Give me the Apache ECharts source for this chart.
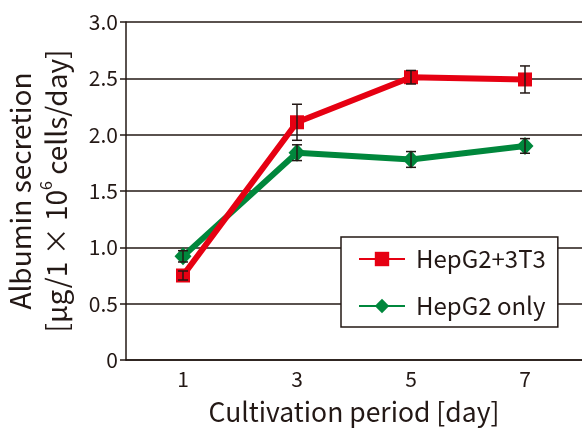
<!DOCTYPE html>
<html>
<head>
<meta charset="utf-8">
<script src="https://cdn.jsdelivr.net/npm/echarts@6/dist/echarts.min.js"></script>
<style>
  html, body { margin: 0; padding: 0; background: #fff; }
  #chart { width: 582px; height: 430px; }
</style>
</head>
<body>
<div id="chart"></div>
<script>
var days = ['1', '3', '5', '7'];
var coMean = [0.75, 2.11, 2.51, 2.49];
var coErr = [0.04, 0.16, 0.06, 0.12];
var onlyMean = [0.92, 1.84, 1.78, 1.90];
var onlyErr = [0.05, 0.07, 0.07, 0.065];
var yTicks = [0, 0.5, 1.0, 1.5, 2.0, 2.5, 3.0];

var ink = '#231815';
var red = '#e60012';
var green = '#00873c';
var font = '"Noto Sans CJK JP", "Noto Sans", sans-serif';

var myChart = echarts.init(document.getElementById('chart'));

function errData(mean, err) {
  let d = [];
  mean.forEach((m, i) => {
    d.push([i, m - err[i], m + err[i]]);
  });
  return d;
}

function errBar(params, api) {
  let lo = api.coord([api.value(0), api.value(1)]);
  let hi = api.coord([api.value(0), api.value(2)]);
  let w = 5;
  let st = { stroke: ink, lineWidth: 1.5 };
  return {
    type: 'group',
    children: [
      { type: 'line', shape: { x1: lo[0], y1: lo[1], x2: hi[0], y2: hi[1] }, style: st },
      { type: 'line', shape: { x1: lo[0] - w, y1: lo[1], x2: lo[0] + w, y2: lo[1] }, style: st },
      { type: 'line', shape: { x1: hi[0] - w, y1: hi[1], x2: hi[0] + w, y2: hi[1] }, style: st }
    ]
  };
}

var option = {
  animation: false,
  textStyle: { fontFamily: font, color: ink },
  grid: { left: 126, right: 0, top: 22, bottom: 70, outerBoundsMode: 'none', containLabel: false },
  legend: {
    orient: 'vertical',
    left: 341,
    top: 237,
    padding: [9, 12, 8, 17],
    itemGap: 21,
    itemWidth: 46,
    itemHeight: 18,
    backgroundColor: '#fff',
    borderColor: ink,
    borderWidth: 1.5,
    textStyle: { fontSize: 24, lineHeight: 26, color: ink, fontFamily: font, padding: [0, 0, 0, 6] },
    data: ['HepG2+3T3', 'HepG2 only']
  },
  xAxis: {
    type: 'category',
    data: days,
    boundaryGap: true,
    name: 'Cultivation period [day]',
    nameLocation: 'middle',
    nameGap: 39,
    nameTextStyle: { fontSize: 26.5, color: ink, fontFamily: font },
    axisLine: { lineStyle: { color: ink, width: 1.5 } },
    axisTick: { alignWithLabel: true, length: 6, lineStyle: { color: ink, width: 1.5 } },
    axisLabel: { fontSize: 21, color: ink, margin: 9 },
    splitLine: { show: false }
  },
  yAxis: {
    type: 'value',
    min: 0,
    max: 3,
    interval: 0.5,
    name: 'Albumin secretion\n[μg/1 × 10{sup|6} cells/day]',
    nameLocation: 'middle',
    nameRotate: 90,
    nameGap: 52,
    nameTextStyle: {
      fontSize: 28,
      color: ink,
      fontFamily: font,
      lineHeight: 36,
      rich: {
        sup: { fontSize: 16, verticalAlign: 'top', lineHeight: 36, padding: [0, 0, 12, 0], fontFamily: font, color: ink }
      }
    },
    axisLine: { show: true, lineStyle: { color: ink, width: 1.5 } },
    axisTick: { show: true, length: 6, lineStyle: { color: ink, width: 1.5 } },
    axisLabel: {
      fontSize: 21,
      color: ink,
      margin: 8,
      formatter: v => (v === 0 ? '0' : v.toFixed(1))
    },
    splitLine: { lineStyle: { color: ink, width: 1.5 } }
  },
  series: [
    {
      name: 'HepG2+3T3',
      type: 'line',
      data: coMean,
      symbol: 'rect',
      symbolSize: 14,
      lineStyle: { color: red, width: 6 },
      itemStyle: { color: red },
      z: 3
    },
    {
      name: 'HepG2 only',
      type: 'line',
      data: onlyMean,
      symbol: 'diamond',
      symbolSize: [17, 18],
      lineStyle: { color: green, width: 6 },
      itemStyle: { color: green },
      z: 2
    },
    {
      type: 'custom',
      data: errData(coMean, coErr),
      renderItem: errBar,
      z: 5
    },
    {
      type: 'custom',
      data: errData(onlyMean, onlyErr),
      renderItem: errBar,
      z: 5
    }
  ]
};

myChart.setOption(option);
</script>
</body>
</html>
